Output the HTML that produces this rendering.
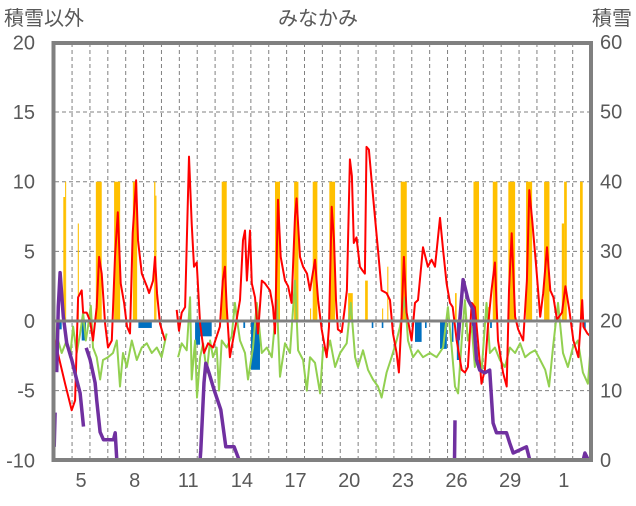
<!DOCTYPE html>
<html><head><meta charset="utf-8">
<style>
html,body{margin:0;padding:0;background:#fff;}
body{width:636px;height:501px;overflow:hidden;font-family:"Liberation Sans","Noto Sans CJK JP",sans-serif;}
svg text{font-family:"Liberation Sans","Noto Sans CJK JP",sans-serif;fill:#595959;}
</style></head>
<body>
<svg id="chart" width="636" height="501" viewBox="0 0 636 501" xmlns="http://www.w3.org/2000/svg">
<text x="4" y="25" font-size="20">積雪以外</text>
<text x="318" y="25" font-size="20" text-anchor="middle">みなかみ</text>
<text x="632" y="25" font-size="20" text-anchor="end">積雪</text>
<g id="grid"></g>
<g id="bars"></g>
<g id="lines"></g>
<g id="frame"></g>
<g id="axes"></g>
</svg>
<script>
const leftTicks=[20,15,10,5,0,-5,-10];
const rightTicks=[60,50,40,30,20,10,0];
const dayTickPos=[5,8,11,14,17,20,23,26,29,32];
const dayTickLabels=["5","8","11","14","17","20","23","26","29","1"];
const redT=[3.5,4.11,4.48,4.67,4.84,5.04,5.12,5.32,5.51,5.67,5.88,6.01,6.16,6.35,6.51,6.72,6.90,7.06,7.22,7.41,7.57,7.74,7.89,8.08,8.19,8.40,8.68,8.81,9.03,9.14,9.25,9.42,9.70,null,10.35,10.48,10.63,10.82,11.04,11.19,11.32,11.47,11.66,11.88,12.11,12.38,12.59,12.77,12.93,13.05,13.15,13.33,13.61,13.89,14.06,14.17,14.28,14.45,14.55,14.73,14.90,15.11,15.29,15.57,15.74,15.85,16.02,16.17,16.41,16.58,16.78,16.97,17.06,17.25,17.42,17.64,17.81,18.09,18.26,18.46,18.74,18.87,19.02,19.15,19.26,19.37,19.58,19.76,19.87,20.04,20.15,20.26,20.41,20.60,20.76,20.88,20.97,21.10,21.25,21.44,21.61,21.81,22.09,22.28,22.45,22.65,22.78,22.93,23.06,23.21,23.49,23.68,23.85,24.13,24.40,24.61,24.80,25.08,25.25,25.45,25.64,25.79,26.01,26.29,26.47,26.64,26.85,27.03,27.20,27.40,27.59,27.76,27.96,28.15,28.32,28.60,28.81,28.94,29.09,29.28,29.45,29.73,29.94,30.07,30.23,30.46,30.68,30.85,31.06,31.25,31.42,31.62,31.90,32.09,32.31,32.54,32.82,33.03,33.10,33.32,33.49];
const redV=[-1.2,-4.5,-6.4,-5.7,1.7,2.2,0.6,0.6,0,-1.4,1.0,4.6,3.4,-0.2,-1.9,-1.4,4.6,7.8,2.7,1.3,-0.4,-0.9,6.3,10.1,5.8,3.4,2.5,2.0,2.9,4.6,2.0,-0.2,-1.4,null,0.8,-0.7,0.6,1.0,11.8,7.0,3.9,4.2,-0.2,-2.3,-1.6,-1.9,-1.1,-0.4,2.9,3.9,1.0,-2.6,-0.6,1.5,5.8,6.5,2.9,6.5,2.7,1.7,-0.9,2.9,2.7,2.2,1.0,-0.9,8.7,4.6,2.9,2.5,1.3,7.5,8.8,4.6,3.9,3.4,2.2,4.4,1.5,-0.6,-2.6,-0.4,8.2,5.8,1.5,-0.6,-0.8,1.0,2.2,11.6,10.4,5.6,6.0,3.9,3.6,3.4,12.5,12.3,10.1,7.5,5.1,2.2,2.0,1.5,-0.9,-2.3,-3.7,0.3,4.6,0.6,-1.4,1.3,1.5,5.3,3.9,4.4,3.9,7.4,5.1,2.7,1.3,1.0,-1.4,-3.5,-3.7,-3.3,1.3,1.0,-1.4,-4.5,-3.5,-0.4,2.2,4.2,-1.4,-3.7,-4.7,2.2,6.3,0.3,-0.6,-1.4,2.9,9.4,7.3,3.9,0.3,2.0,5.3,2.2,1.7,0.1,0.6,2.5,0.8,-1.4,-2.6,1.5,-0.4,-0.9,-1.1];
const greenT=[3.5,3.55,3.72,3.92,4.20,4.39,4.56,4.76,4.95,5.12,5.27,5.39,5.55,5.67,5.88,6.07,6.23,6.51,6.79,7.0,7.18,7.35,7.56,7.84,8.12,8.40,8.68,8.96,9.24,9.51,9.79,null,10.43,10.63,10.91,11.10,11.19,11.38,11.49,11.66,11.83,12.03,12.22,12.38,12.59,12.72,12.87,13.15,13.43,13.61,13.78,13.89,14.17,14.34,14.62,14.83,15.11,15.39,15.67,15.95,16.13,16.41,16.69,16.97,17.14,17.42,17.63,17.81,18.09,18.37,18.54,18.74,18.93,19.21,19.49,19.86,20.09,20.33,20.49,20.77,21.05,21.33,21.61,21.81,22.09,22.37,22.65,22.84,23.12,23.29,23.57,23.85,24.13,24.52,24.89,25.25,25.52,25.73,25.92,26.09,26.29,26.47,26.64,26.85,27.03,27.20,27.40,27.68,27.87,28.15,28.43,28.71,28.99,29.28,29.56,29.84,30.12,30.40,30.68,30.96,31.18,31.40,31.68,31.96,32.23,32.51,32.79,33.07,33.35,33.5];
const greenV=[2.0,-2.6,-1.4,-2.3,-1.4,-2.6,-0.4,-2.3,-0.9,0.6,-1.4,-0.4,1.1,-1.9,-2.6,-4.2,-2.8,-2.6,-2.3,-1.4,-4.7,-2.3,-3.3,-1.4,-2.8,-1.9,-1.6,-2.3,-1.9,-2.6,-0.9,null,-2.6,-1.6,-2.1,1.7,-4.2,-1.4,-5.5,-2.6,-1.6,-3.7,-1.4,-2.6,-1.9,-5.0,-1.4,-1.9,-1.1,1.3,-0.4,-1.4,-2.3,-4.2,-1.9,1.3,-2.3,-1.9,-2.6,1.5,-4.0,-1.6,-2.3,2.9,-2.1,-2.8,-5.0,-2.6,-3.0,-5.2,-1.9,-2.3,-1.4,-3.3,-2.3,-1.6,1.3,-2.6,-3.3,-2.1,-3.5,-4.2,-4.7,-5.5,-3.7,-2.6,-1.4,-0.4,1.7,-1.4,-2.6,-2.1,-2.6,-2.3,-2.6,-1.9,1.0,-1.9,-4.7,-5.2,-1.4,1.5,-1.4,-0.4,-3.3,-1.9,-3.7,1.3,-2.3,-1.9,-2.8,-3.3,-1.9,-2.3,-1.6,-2.6,-2.3,-2.1,-2.8,-3.5,-4.7,-1.9,1.3,-2.3,-3.3,-1.9,-1.4,-3.7,-4.5,-1.9];
const snowT=[3.5,3.55,null,3.64,3.73,3.83,4.01,4.20,4.48,4.76,4.95,5.14,null,5.29,5.51,5.79,5.88,6.07,6.26,6.82,6.91,7.0,9.87,null,10.35,11.66,11.70,11.88,11.98,12.16,12.44,12.82,13.10,13.56,13.84,25.89,25.92,null,26.09,26.37,26.65,26.93,27.12,27.30,27.58,27.86,28.05,28.24,28.80,28.98,29.17,29.91,30.10,33.09,33.18,33.37];
const snowV=[1.9,6.8,null,12.6,22.0,26.9,20.6,16.8,14.4,11.5,9.6,4.8,null,16.1,14.4,11.1,8.6,4.0,2.9,2.9,3.9,0,0,null,0,0,1.4,11.1,13.9,12.5,10.1,7.2,1.9,1.9,0,0,5.7,null,17.2,25.9,23.0,21.6,14.4,12.9,12.5,12.9,5.3,3.9,3.9,2.4,1.0,1.9,0,0,1.0,0];
const precipStart=[4.01,4.11,4.82,5.83,6.85,7.90,9.09,9.16,12.87,15.85,16.92,17.81,17.96,18.89,19.94,20.89,21.84,22.13,22.88,25.92,26.95,27.77,28.03,28.90,29.89,30.90,31.89,32.02,32.91];
const precipEnd=[4.11,4.17,4.88,6.16,7.19,8.14,9.16,9.22,13.15,16.13,17.16,17.87,18.22,19.21,20.20,21.04,21.90,22.19,23.22,26.01,27.26,27.88,28.29,29.28,30.23,31.20,32.02,32.17,33.06];
const precipVal=[8.9,10,7,10,10,10,10,9,10,10,10,0.9,10,10,2,2.9,0.9,3.9,10,2,10,1,10,10,10,10,7,10,10];
const negStart=[3.79,5.04,8.21,11.38,11.66,14.08,14.51,21.26,21.82,23.68,24.24,25.08,25.74,26.02,26.85,27.88,33.10];
const negEnd=[3.92,5.28,8.96,11.66,12.31,14.18,15.01,21.35,21.91,24.05,24.33,25.46,25.83,26.16,26.94,27.98,33.23];
const negVal=[-0.6,-1.4,-0.5,-1.7,-1.1,-0.5,-3.5,-0.5,-0.5,-1.5,-0.5,-2.0,-1.5,-2.8,-0.5,-0.5,-0.6];

const NS="http://www.w3.org/2000/svg";
const X0=55,X1=591;
function xS(d){return 81+(d-5)*17.88;}
function yL(v){return 321-v*13.93;}
function yR(s){return 460-s*6.967;}
function mk(tag,parent,attrs){const e=document.createElementNS(NS,tag);for(const k in attrs)e.setAttribute(k,attrs[k]);parent.appendChild(e);return e;}
const grid=document.getElementById('grid'),bars=document.getElementById('bars'),lines=document.getElementById('lines'),frame=document.getElementById('frame'),axes=document.getElementById('axes');

[15,10,5,-5].forEach(v=>{
  const l=mk('line',grid,{x1:X0,x2:X1,y1:yL(v),y2:yL(v),stroke:'#808080','stroke-width':1,'stroke-dasharray':'4,3'});
  
  
});
for(let d=4.5;d<33.5;d+=1){
  const l=mk('line',grid,{x1:xS(d),x2:xS(d),y1:43,y2:460,stroke:'#808080','stroke-width':1,'stroke-dasharray':'4,3'});
  
  
}
precipStart.forEach((s,i)=>{
  const x=xS(s),w=Math.max(1,xS(precipEnd[i])-x);
  const r=mk('rect',bars,{x:x,y:yL(precipVal[i]),width:w,height:yL(0)-yL(precipVal[i]),fill:'#ffc000'});
  
  
});
negStart.forEach((s,i)=>{
  const x=xS(s),w=Math.max(1,xS(negEnd[i])-x);
  const r=mk('rect',bars,{x:x,y:yL(0),width:w,height:yL(negVal[i])-yL(0),fill:'#0070c0'});
  
  
});
function path(T,V,yf){let d='',pen=false;for(let i=0;i<T.length;i++){if(T[i]===null||V[i]===null){pen=false;continue;}d+=(pen?'L':'M')+xS(T[i]).toFixed(1)+','+yf(V[i]).toFixed(1);pen=true;}return d;}
const g=mk('path',lines,{d:path(greenT,greenV,yL),fill:'none',stroke:'#92d050','stroke-width':2,'stroke-linejoin':'round'});


const r=mk('path',lines,{d:path(redT,redV,yL),fill:'none',stroke:'#ff0000','stroke-width':2,'stroke-linejoin':'round'});


const z=mk('line',frame,{x1:X0,x2:X1,y1:yL(0),y2:yL(0),stroke:'#808080','stroke-width':3});


const p=mk('path',lines,{d:path(snowT,snowV,yR),fill:'none',stroke:'#7030a0','stroke-width':3.5,'stroke-linejoin':'round'});



const fr=mk('rect',frame,{x:53.5,y:43,width:537.5,height:417,fill:'none',stroke:'#808080','stroke-width':4});



leftTicks.forEach(v=>{
  const t=mk('text',axes,{x:35,y:yL(v)+7,'font-size':20,'text-anchor':'end'});t.textContent=v;
  
  
});
rightTicks.forEach(v=>{
  const t=mk('text',axes,{x:600,y:yR(v)+7,'font-size':20});t.textContent=v;
  
  
});
dayTickPos.forEach((d,i)=>{
  const t=mk('text',axes,{x:xS(d),y:487,'font-size':20,'text-anchor':'middle'});t.textContent=dayTickLabels[i];
  
  
});
</script>
</body></html>
